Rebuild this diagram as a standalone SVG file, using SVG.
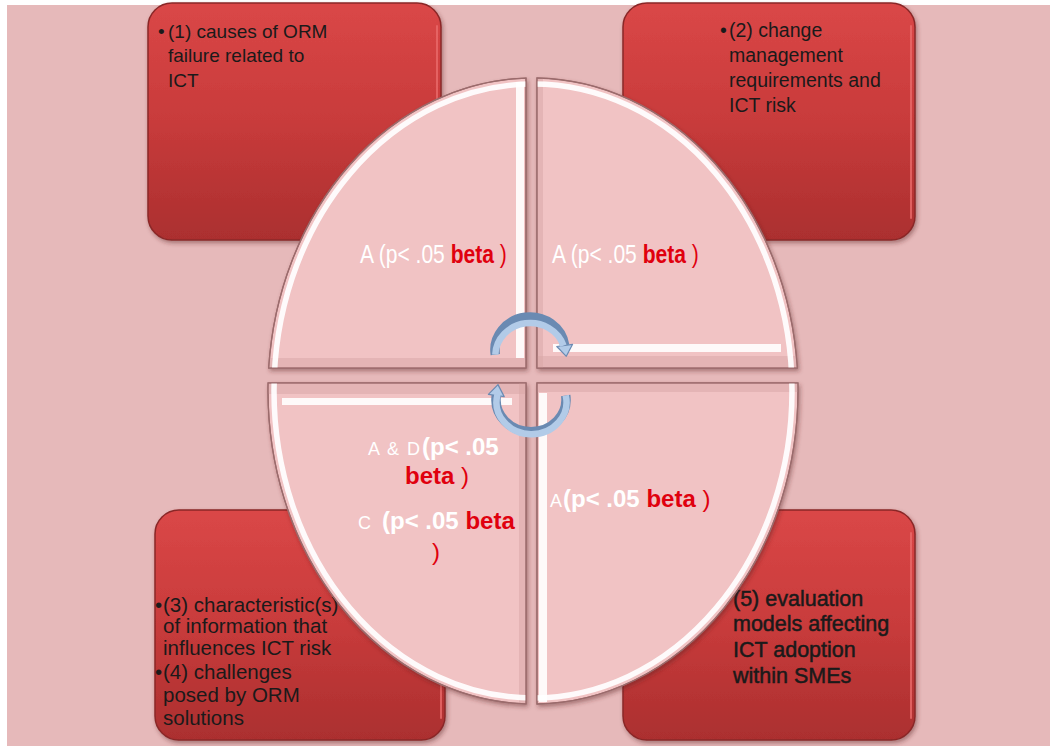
<svg xmlns="http://www.w3.org/2000/svg" width="1050" height="746" viewBox="0 0 1050 746">
<defs>
<style>
.box{fill:url(#redg);stroke:#8a2828;stroke-width:1.5}
.rim{fill:none;stroke:#ea6a6a;stroke-width:2;stroke-linecap:round;opacity:0.8}
.bt{font-family:"Liberation Sans",Arial,sans-serif;fill:#1a1a1a}
.q{fill:#f1c3c4;stroke:#9b6b6c;stroke-width:1.3}
.lb{font-family:"Liberation Sans",Arial,sans-serif}
.w{fill:#ffffff}
.r{fill:#e0000e}
.b{font-weight:bold}
.hl{fill:#ffffff;opacity:0.9}
.dk{fill:#d7a5a6;opacity:0.5}
.arO{fill:none;stroke:#6a8ab2;stroke-width:9.5}
.arI{fill:none;stroke:#b2cbe8;stroke-width:6.5}
.ah{fill:#b2cbe8;stroke:#6a8ab2;stroke-width:1.2;stroke-linejoin:round}
</style>
<linearGradient id="redg" x1="0" y1="0" x2="0" y2="1">
<stop offset="0" stop-color="#da4747"/>
<stop offset="0.5" stop-color="#c83b3b"/>
<stop offset="1" stop-color="#ab2f2f"/>
</linearGradient>
<filter id="sh" x="-10%" y="-10%" width="125%" height="125%">
<feDropShadow dx="1.5" dy="2.5" stdDeviation="2" flood-color="#5a2020" flood-opacity="0.45"/>
</filter>
<path id="pTL" d="M526,78.1 A265,313 0 0 0 268.7,368 L526,368 Z"/>
<path id="pTR" d="M537,78 A265,313 0 0 1 797.3,368 L537,368 Z"/>
<path id="pBL" d="M268.1,383 A265,313 0 0 0 526,703.9 L526,383 Z"/>
<path id="pBR" d="M537,383 L797.9,383 A265,313 0 0 1 537,704 Z"/>
<clipPath id="cq">
<use href="#pTL"/><use href="#pTR"/><use href="#pBL"/><use href="#pBR"/>
</clipPath>
</defs>

<rect x="0" y="0" width="1050" height="746" fill="#ffffff"/>
<rect x="7" y="5" width="1043" height="741" fill="#e6b9ba"/>

<g id="box1">
<rect class="box" x="148" y="3" width="293" height="237" rx="24" filter="url(#sh)"/>
<line class="rim" x1="437" y1="26" x2="437" y2="218"/>
<text class="bt" font-size="19"><tspan x="158" y="38">•</tspan><tspan x="168" y="38">(1) causes of ORM</tspan><tspan x="168" y="62">failure related to</tspan><tspan x="168" y="87">ICT</tspan></text>
</g>

<g id="box2">
<rect class="box" x="623" y="3" width="292" height="237" rx="24" filter="url(#sh)"/>
<line class="rim" x1="911" y1="26" x2="911" y2="218"/>
<text class="bt" font-size="19.5"><tspan x="720" y="37">•</tspan><tspan x="729" y="37">(2) change</tspan><tspan x="729" y="62">management</tspan><tspan x="729" y="87">requirements and</tspan><tspan x="729" y="112">ICT risk</tspan></text>
</g>

<g id="box3">
<rect class="box" x="155" y="510" width="290" height="230" rx="24" filter="url(#sh)"/>
<line class="rim" x1="441" y1="533" x2="441" y2="718"/>
<text class="bt" font-size="20.5"><tspan x="155" y="612">•</tspan><tspan x="163" y="612">(3) characteristic(s)</tspan><tspan x="163" y="633">of information that</tspan><tspan x="163" y="655">influences ICT risk</tspan><tspan x="155" y="679">•</tspan><tspan x="163" y="679">(4) challenges</tspan><tspan x="163" y="702">posed by ORM</tspan><tspan x="163" y="725">solutions</tspan></text>
</g>

<g id="box4">
<rect class="box" x="623" y="510" width="292" height="230" rx="24" filter="url(#sh)"/>
<line class="rim" x1="911" y1="533" x2="911" y2="718"/>
<text class="bt" font-size="21.5" stroke="#1a1a1a" stroke-width="0.5"><tspan x="733" y="606">(5) evaluation</tspan><tspan x="733" y="631">models affecting</tspan><tspan x="733" y="657">ICT adoption</tspan><tspan x="733" y="683">within SMEs</tspan></text>
</g>

<g id="quadrants">
<g id="qTL"><use href="#pTL" class="q" filter="url(#sh)"/></g>
<g id="qTR"><use href="#pTR" class="q" filter="url(#sh)"/></g>
<g id="qBL"><use href="#pBL" class="q" filter="url(#sh)"/></g>
<g id="qBR"><use href="#pBR" class="q" filter="url(#sh)"/></g>
<g clip-path="url(#cq)">
<rect class="dk" x="260" y="358" width="266" height="10"/>
<rect class="dk" x="537" y="356" width="262" height="12"/>
<rect class="dk" x="260" y="383" width="266" height="11"/>
<rect class="dk" x="537" y="383" width="262" height="9"/>
<rect class="dk" x="537" y="78" width="6" height="290"/>
<rect class="dk" x="519" y="383" width="7" height="322"/>
<ellipse cx="533" cy="391" rx="259" ry="307" fill="none" stroke="#ffffff" stroke-width="5.5" opacity="0.92"/>
<rect class="hl" x="516" y="82" width="8" height="276"/>
<rect class="hl" x="553" y="344" width="228" height="8"/>
<rect class="hl" x="282" y="398" width="230" height="7"/>
<rect class="hl" x="539" y="393" width="8" height="309"/>
</g>
<use href="#pTL" fill="none" stroke="#9b6b6c" stroke-width="1.2"/>
<use href="#pTR" fill="none" stroke="#9b6b6c" stroke-width="1.2"/>
<use href="#pBL" fill="none" stroke="#9b6b6c" stroke-width="1.2"/>
<use href="#pBR" fill="none" stroke="#9b6b6c" stroke-width="1.2"/>
</g>

<g id="labels">
<text id="labelTL" class="lb" font-size="26" transform="translate(360,263) scale(0.81,1)"><tspan class="w">A (p&lt; .05 </tspan><tspan class="r b">beta</tspan><tspan class="r"> )</tspan></text>
<text id="labelTR" class="lb" font-size="26" transform="translate(552,263) scale(0.81,1)"><tspan class="w">A (p&lt; .05 </tspan><tspan class="r b">beta</tspan><tspan class="r"> )</tspan></text>
<g id="labelBL">
<text class="lb" y="455"><tspan class="w" x="368" font-size="18" word-spacing="3">A &amp; D</tspan><tspan class="w b" x="422" font-size="24">(p&lt; .05</tspan></text>
<text class="lb" x="405" y="484" font-size="24"><tspan class="r b">beta</tspan><tspan class="r"> )</tspan></text>
<text class="lb" y="529"><tspan class="w" x="358" font-size="18">C</tspan><tspan class="w b" x="382" font-size="24">(p&lt; .05 </tspan><tspan class="r b" font-size="24">beta</tspan></text>
<text class="lb r" x="432" y="560" font-size="24">)</text>
</g>
<text id="labelBR" class="lb" y="507"><tspan class="w" x="550" font-size="18">A</tspan><tspan class="w b" x="563" font-size="24">(p&lt; .05 </tspan><tspan class="r b" font-size="24">beta</tspan><tspan class="r" font-size="24"> )</tspan></text>
</g>

<g id="connectors">
<path class="arO" d="M495.3,354.6 A35,33 0 0 1 564.7,345.4"/>
<polygon class="ah" points="556.8,346.5 572.6,344.3 566.3,356.3"/>
<path class="arI" d="M495.3,354.6 A35,33 0 0 1 563.5,345.6"/>
<path class="arO" d="M565.7,395.5 A35,32 0 1 1 496.3,395.5"/>
<polygon class="ah" points="488.4,394.4 504.2,396.6 498.0,384.6"/>
<path class="arI" d="M565.7,395.5 A35,32 0 1 1 497.5,394.5"/>
</g>
</svg>
